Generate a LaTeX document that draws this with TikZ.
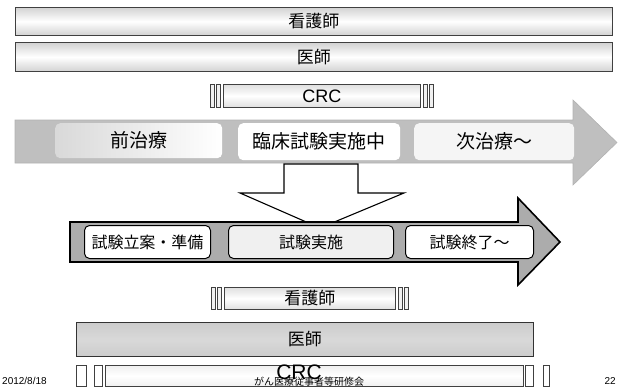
\documentclass[tikz,border=0pt]{standalone}
\usepackage{fontspec}
\setmainfont{Liberation Sans}
\newfontfamily\jp{Noto Sans CJK JP}
\begin{document}
\begin{tikzpicture}[x=1pt,y=-1pt,
  bar/.style={draw=black!75, line width=0.9pt, top color=gray!35, bottom color=gray!35, middle color=white, inner sep=0pt, anchor=north west, font=\jp\fontsize{17}{17}\selectfont},
  crcbar/.style={draw=black!75, line width=0.7pt, fill=gray!12, inner sep=0pt, anchor=north west},
  crcbox/.style={draw=black!75, line width=0.8pt, top color=gray!25, bottom color=gray!25, middle color=white, inner sep=0pt, anchor=north west, font=\fontsize{18}{18}\selectfont},
  phase/.style={rounded corners=5pt, inner sep=0pt, anchor=north west, font=\jp\fontsize{19}{19}\selectfont},
  stage/.style={draw=black, line width=1pt, rounded corners=5pt, inner sep=0pt, anchor=north west, font=\jp\fontsize{16}{16}\selectfont},
  bigarrow/.style={fill=gray!50, draw=gray!60, line width=0.6pt},
  darkarrow/.style={fill=gray!65, draw=black, line width=1.6pt, line join=miter},
  downarrow/.style={fill=white, draw=black, line width=1.1pt, line join=miter},
  foot/.style={font=\fontsize{10}{10}\selectfont, inner sep=0pt}
]
\useasboundingbox (0,0) rectangle (630,388);

% top role bars
\node[bar, minimum width=597pt, minimum height=28pt] (nurse1) at (15,7) {看護師};
\node[bar, minimum width=597pt, minimum height=29pt] (doc1) at (15,42) {医師};

% CRC top
\node[crcbar, minimum width=4pt, minimum height=23pt] (c1a) at (210,84) {};
\node[crcbar, minimum width=4pt, minimum height=23pt] (c1b) at (216,84) {};
\node[crcbox, minimum width=197pt, minimum height=23pt] (crc1) at (223,84) {CRC};
\node[crcbar, minimum width=4pt, minimum height=23pt] (c1c) at (423,84) {};
\node[crcbar, minimum width=4pt, minimum height=23pt] (c1d) at (429,84) {};

% big gray arrow
\path[bigarrow] (15,120) -- (573,120) -- (573,100) -- (617,142.5) -- (573,185) -- (573,163) -- (15,163) -- cycle;
\node[phase, left color=gray!30, right color=white, minimum width=167pt, minimum height=35pt] (pre) at (55,123) {前治療};
\node[phase, fill=white, minimum width=162pt, minimum height=37pt] (trial) at (238,123) {臨床試験実施中};
\node[phase, fill=gray!8, minimum width=160pt, minimum height=37pt] (next) at (414,123) {次治療～};

% white down arrow
\path[downarrow] (284,164) -- (358,164) -- (358,193) -- (404,193) -- (320,228) -- (240,193) -- (284,193) -- cycle;

% dark arrow
\path[darkarrow] (70,222) -- (518,222) -- (518,198) -- (560,242) -- (518,285) -- (518,262) -- (70,262) -- cycle;
\node[stage, fill=white, minimum width=126pt, minimum height=33pt] (plan) at (84,225) {試験立案・準備};
\node[stage, fill=gray!12, minimum width=165pt, minimum height=33pt] (run) at (228,225) {試験実施};
\node[stage, fill=white, minimum width=128pt, minimum height=33pt] (end) at (405,225) {試験終了～};

% bottom nurse
\node[crcbar, minimum width=4pt, minimum height=22pt] (n2a) at (211,287) {};
\node[crcbar, minimum width=4pt, minimum height=22pt] (n2b) at (217,287) {};
\node[crcbox, font=\jp\fontsize{17}{17}\selectfont, minimum width=171pt, minimum height=22pt] (nurse2) at (224,287) {看護師};
\node[crcbar, minimum width=4pt, minimum height=22pt] (n2c) at (398,287) {};
\node[crcbar, minimum width=4pt, minimum height=22pt] (n2d) at (404,287) {};

% bottom doctor
\node[bar, draw=black!80, top color=gray!40, bottom color=gray!40, middle color=gray!30, minimum width=457pt, minimum height=34pt] (doc2) at (76,322) {医師};

% bottom CRC
\node[crcbar, fill=white, minimum width=10pt, minimum height=21pt] (c2a) at (76,365) {};
\node[crcbar, fill=white, minimum width=8pt, minimum height=21pt] (c2b) at (94,365) {};
\node[crcbox, top color=gray!12, bottom color=gray!12, middle color=white, minimum width=418pt, minimum height=21pt] (crc2) at (105,365) {};
\node[font=\fontsize{21}{21}\selectfont, inner sep=0pt] (crc2t) at (299,372) {CRC};
\node[crcbar, fill=white, minimum width=8pt, minimum height=21pt] (c2c) at (525,365) {};
\node[crcbar, fill=white, minimum width=6pt, minimum height=21pt] (c2d) at (543,365) {};

% footer
\node[foot, anchor=west] (date) at (2,381) {2012/8/18};
\node[foot, font=\jp\fontsize{10}{10}\selectfont] (org) at (309,382) {がん医療従事者等研修会};
\node[foot, anchor=east] (page) at (616,381) {22};
\end{tikzpicture}
\end{document}
